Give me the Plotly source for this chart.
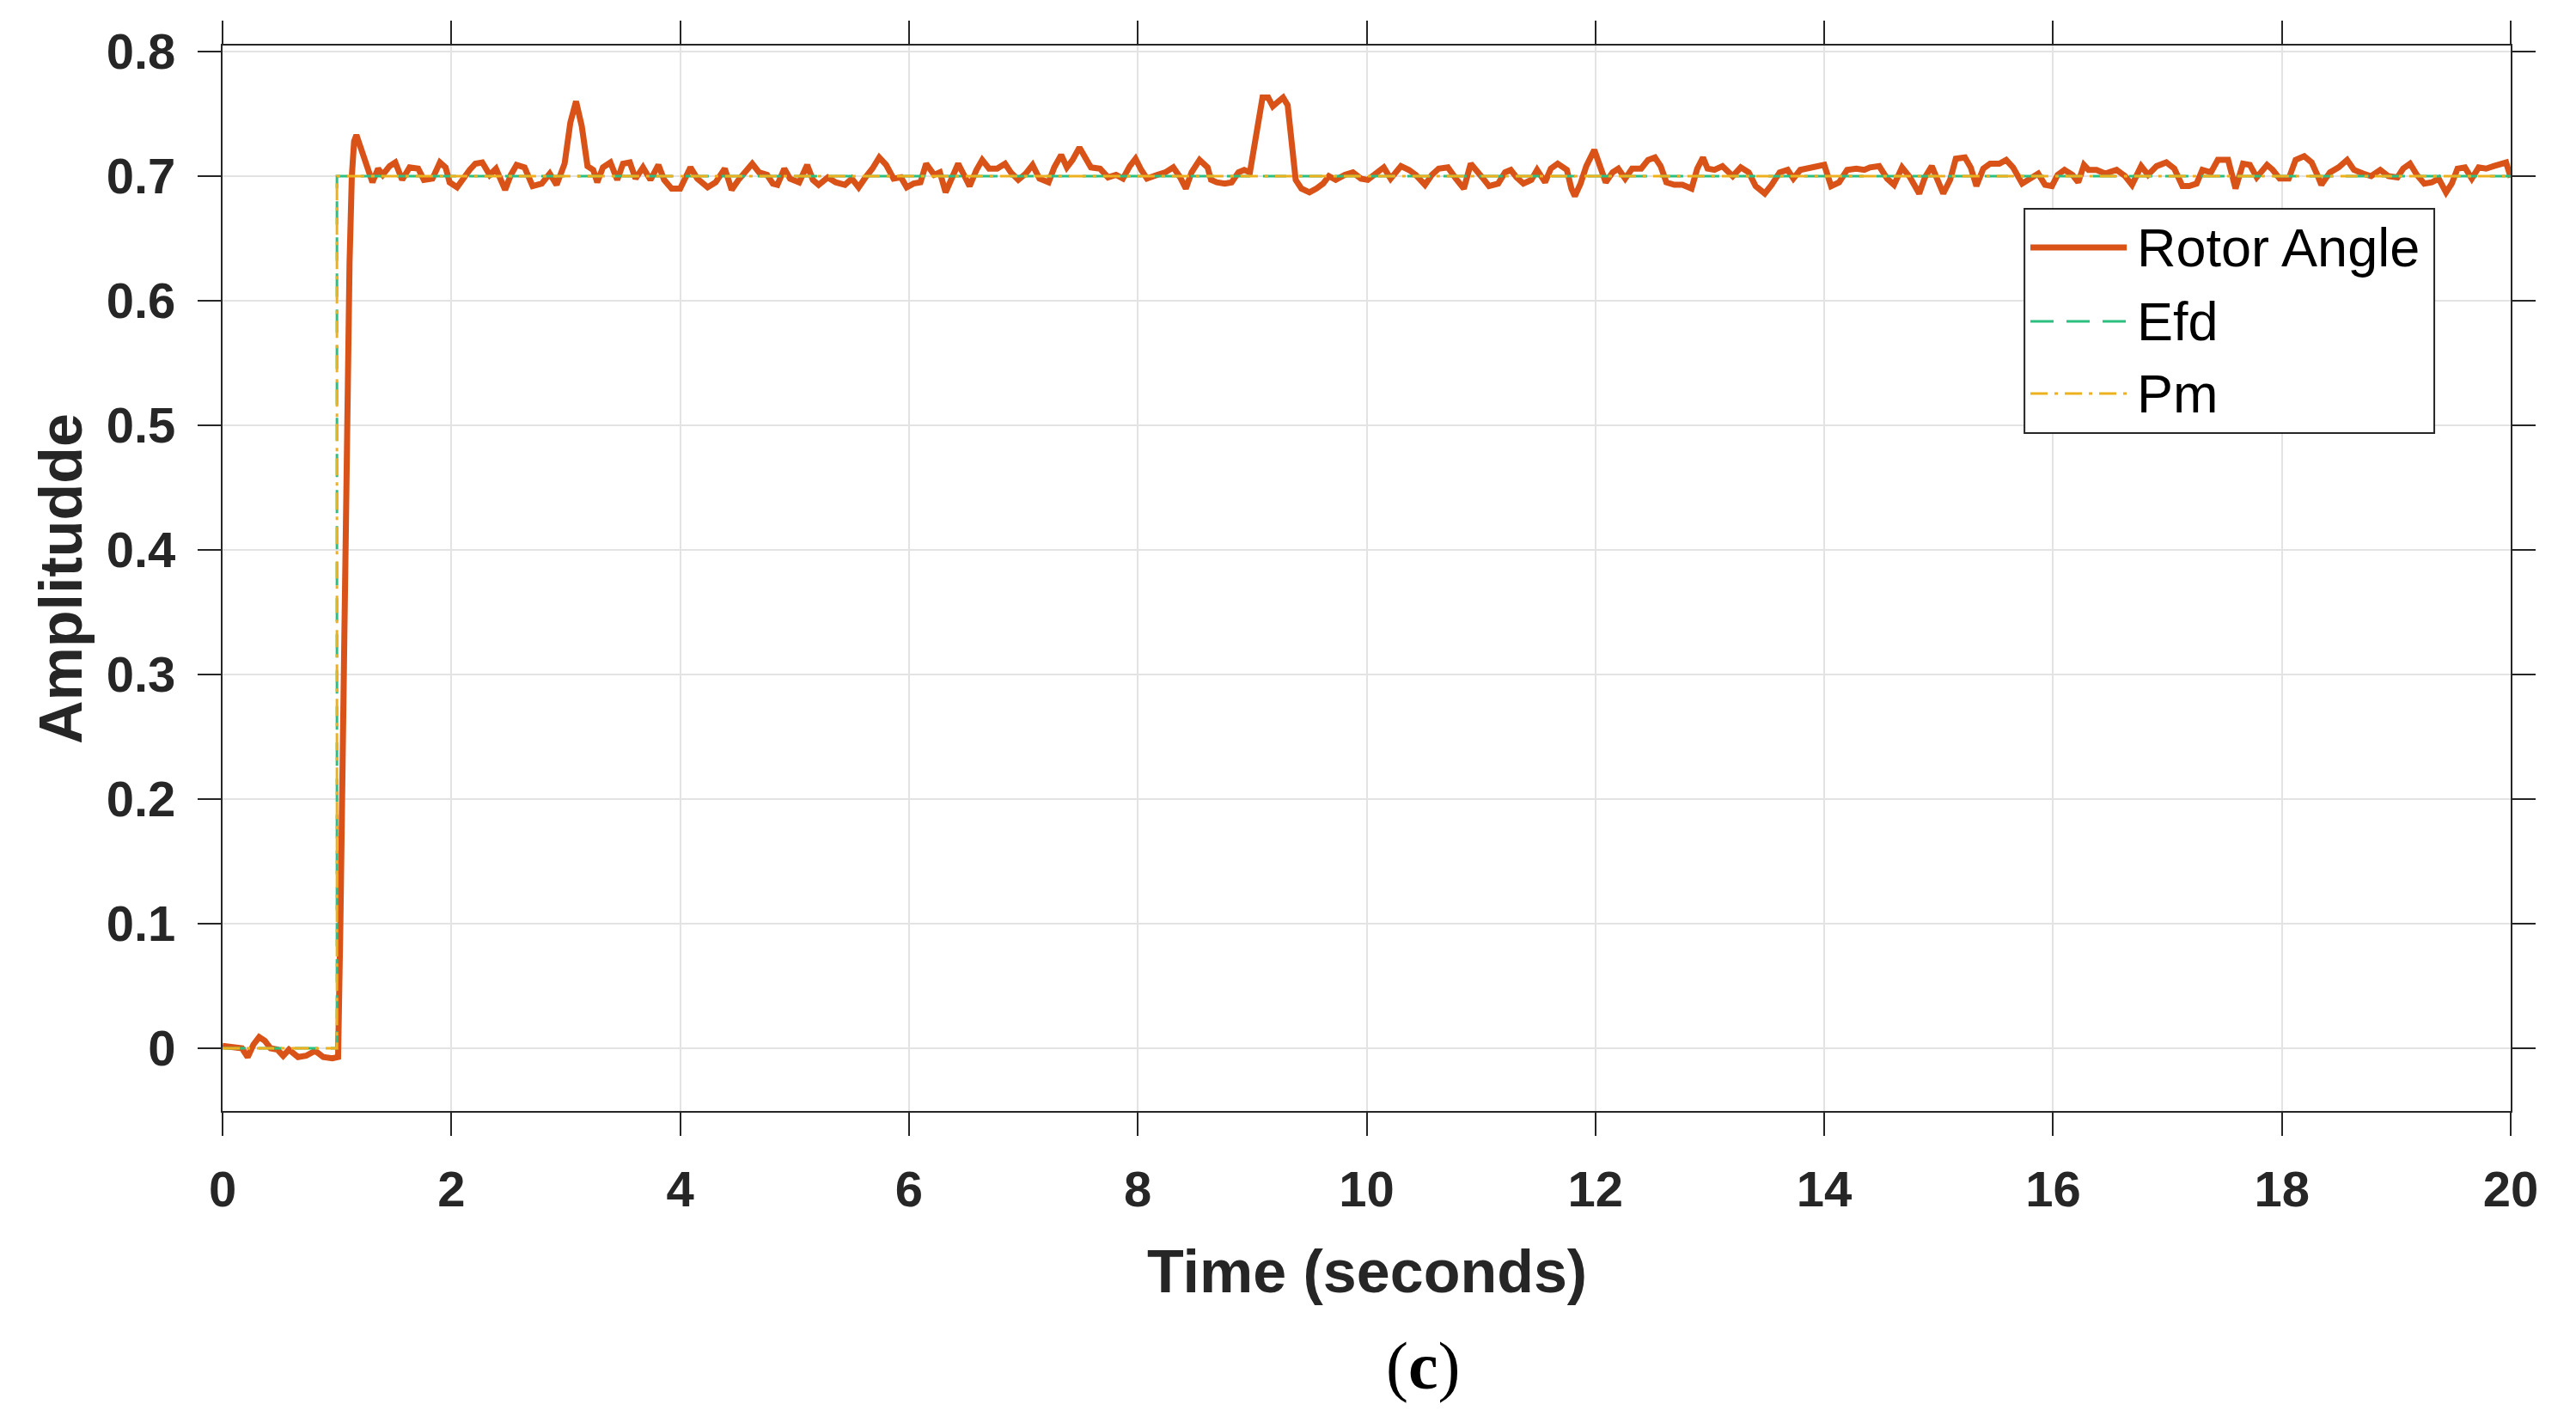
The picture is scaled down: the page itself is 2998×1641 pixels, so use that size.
import plotly.graph_objects as go

# Rotor angle trace (time in s, value)
rotor_t = [
    0.0, 0.11, 0.17, 0.22, 0.27, 0.32, 0.37, 0.42, 0.48, 0.53, 0.58, 0.66, 0.73, 0.81, 0.88, 0.96,
    1.01, 1.03, 1.05, 1.07, 1.09, 1.11, 1.13, 1.15, 1.17,
    1.21, 1.25, 1.28, 1.31, 1.36, 1.40, 1.46, 1.51, 1.57, 1.635, 1.71, 1.76, 1.835, 1.90, 1.95, 1.985,
    2.05, 2.10, 2.16, 2.21, 2.27, 2.335, 2.39, 2.47, 2.52, 2.57, 2.64, 2.71, 2.79, 2.86, 2.92, 2.99,
    3.04, 3.09, 3.14, 3.19, 3.24, 3.275, 3.325, 3.39, 3.45, 3.50, 3.56, 3.61, 3.675, 3.74, 3.81, 3.86, 3.925,
    4.00, 4.09, 4.15, 4.24, 4.31, 4.39, 4.45, 4.51, 4.63, 4.69, 4.76, 4.81,
    4.85, 4.91, 4.96, 5.04, 5.11, 5.16, 5.21, 5.29, 5.36, 5.44, 5.50, 5.56, 5.62, 5.68, 5.74, 5.80, 5.865, 5.93, 5.98,
    6.04, 6.10, 6.15, 6.22, 6.27, 6.32, 6.38, 6.43, 6.48, 6.53, 6.59, 6.64, 6.70, 6.77, 6.84, 6.89, 6.955,
    7.02, 7.08, 7.14, 7.22, 7.27, 7.33, 7.38, 7.43, 7.49, 7.54, 7.59, 7.67, 7.74, 7.81, 7.87, 7.93, 7.98,
    8.03, 8.08, 8.17, 8.24, 8.31, 8.37, 8.42, 8.47, 8.54, 8.61, 8.64, 8.69, 8.76, 8.82, 8.88, 8.93, 8.98,
    9.02, 9.06, 9.09, 9.14, 9.18, 9.23, 9.27, 9.31, 9.35, 9.38, 9.43, 9.50, 9.56, 9.62, 9.67, 9.73, 9.81, 9.88, 9.95,
    10.01, 10.08, 10.15, 10.21, 10.30, 10.37, 10.43, 10.51, 10.57, 10.63, 10.71, 10.78, 10.85, 10.91, 10.96,
    11.01, 11.07, 11.15, 11.21, 11.26, 11.31, 11.37, 11.44, 11.49, 11.56, 11.61, 11.67, 11.75, 11.79, 11.82, 11.87, 11.92, 11.99,
    12.04, 12.09, 12.15, 12.20, 12.26, 12.32, 12.40, 12.46, 12.52, 12.57, 12.62, 12.69, 12.76, 12.84, 12.89, 12.94, 12.98,
    13.04, 13.11, 13.20, 13.27, 13.34, 13.40, 13.48, 13.54, 13.61, 13.68, 13.73, 13.79, 13.86, 13.94,
    14.00, 14.06, 14.13, 14.20, 14.28, 14.35, 14.40, 14.48, 14.55, 14.61, 14.68, 14.75, 14.83, 14.88, 14.94, 14.99,
    15.04, 15.10, 15.15, 15.23, 15.28, 15.33, 15.39, 15.45, 15.53, 15.59, 15.65, 15.73, 15.79, 15.87, 15.93, 15.99,
    16.04, 16.10, 16.17, 16.22, 16.27, 16.31, 16.38, 16.455, 16.555, 16.63, 16.69, 16.77, 16.83, 16.905, 16.99,
    17.06, 17.13, 17.19, 17.255, 17.305, 17.38, 17.44, 17.53, 17.595, 17.66, 17.72, 17.78, 17.87, 17.92, 17.98,
    18.06, 18.12, 18.195, 18.26, 18.31, 18.345, 18.42, 18.495, 18.57, 18.63, 18.71, 18.78, 18.86, 18.93,
    19.01, 19.06, 19.12, 19.18, 19.245, 19.31, 19.37, 19.435, 19.485, 19.535, 19.60, 19.66, 19.72, 19.785, 19.85, 19.91, 19.96, 20.0,
]
rotor_v = [
    0.002, 0.001, 0.000, -0.007, 0.003, 0.009, 0.006, 0.000, -0.001, -0.006, -0.001, -0.007, -0.006, -0.002, -0.007, -0.008,
    -0.007, 0.10, 0.25, 0.40, 0.52, 0.63, 0.70, 0.728, 0.733,
    0.722, 0.710, 0.700, 0.695, 0.706, 0.701, 0.708, 0.711, 0.697, 0.707, 0.706, 0.697, 0.698, 0.711, 0.707, 0.695,
    0.691, 0.698, 0.705, 0.710, 0.711, 0.701, 0.706, 0.689, 0.701, 0.709, 0.707, 0.692, 0.694, 0.702, 0.693, 0.710,
    0.743, 0.760, 0.740, 0.708, 0.705, 0.695, 0.707, 0.711, 0.697, 0.710, 0.711, 0.698, 0.707, 0.697, 0.709, 0.697, 0.690,
    0.690, 0.707, 0.698, 0.691, 0.695, 0.706, 0.689, 0.697, 0.710, 0.703, 0.701, 0.694,
    0.693, 0.706, 0.698, 0.695, 0.709, 0.697, 0.693, 0.699, 0.695, 0.693, 0.698, 0.691, 0.699, 0.706, 0.715, 0.709, 0.698, 0.699, 0.691,
    0.694, 0.695, 0.710, 0.701, 0.703, 0.687, 0.699, 0.710, 0.701, 0.692, 0.705, 0.713, 0.706, 0.706, 0.710, 0.703, 0.697,
    0.702, 0.709, 0.698, 0.695, 0.707, 0.717, 0.707, 0.713, 0.723, 0.715, 0.707, 0.706, 0.699, 0.701, 0.698, 0.708, 0.714,
    0.705, 0.698, 0.701, 0.703, 0.707, 0.699, 0.690, 0.703, 0.713, 0.707, 0.697, 0.695, 0.694, 0.695, 0.703, 0.705, 0.703,
    0.726, 0.743, 0.763, 0.763, 0.756, 0.760, 0.763, 0.757, 0.722, 0.697, 0.690, 0.687, 0.690, 0.694, 0.700, 0.697, 0.701, 0.703, 0.698,
    0.697, 0.702, 0.707, 0.698, 0.708, 0.705, 0.701, 0.693, 0.701, 0.706, 0.707, 0.698, 0.690, 0.710, 0.705,
    0.699, 0.692, 0.694, 0.703, 0.705, 0.699, 0.694, 0.697, 0.705, 0.695, 0.706, 0.710, 0.705, 0.690, 0.684, 0.694, 0.708, 0.721,
    0.708, 0.695, 0.703, 0.706, 0.698, 0.706, 0.706, 0.713, 0.715, 0.708, 0.695, 0.693, 0.693, 0.690, 0.706, 0.715, 0.706,
    0.705, 0.708, 0.700, 0.707, 0.703, 0.692, 0.686, 0.693, 0.703, 0.705, 0.698, 0.705, 0.706, 0.708,
    0.709, 0.692, 0.695, 0.705, 0.706, 0.705, 0.707, 0.708, 0.698, 0.693, 0.707, 0.699, 0.686, 0.699, 0.708, 0.697,
    0.686, 0.697, 0.714, 0.715, 0.707, 0.692, 0.706, 0.710, 0.710, 0.713, 0.707, 0.694, 0.698, 0.702, 0.693, 0.692,
    0.701, 0.705, 0.701, 0.695, 0.709, 0.705, 0.705, 0.702, 0.705, 0.700, 0.693, 0.708, 0.701, 0.708, 0.711,
    0.706, 0.692, 0.692, 0.694, 0.705, 0.703, 0.713, 0.713, 0.690, 0.710, 0.709, 0.699, 0.709, 0.705, 0.698,
    0.698, 0.713, 0.716, 0.711, 0.701, 0.693, 0.703, 0.707, 0.713, 0.705, 0.702, 0.700, 0.705, 0.700,
    0.699, 0.706, 0.710, 0.701, 0.694, 0.695, 0.698, 0.687, 0.694, 0.706, 0.707, 0.698, 0.707, 0.706, 0.708, 0.710, 0.711, 0.699,
]

# Step inputs (Efd and Pm both step to 0.7 at t = 1 s)
step_t = [0, 1.0, 1.0, 20]
efd_v = [0, 0, 0.7, 0.7]
pm_v = [0, 0, 0.7, 0.7]

x_ticks = [0, 2, 4, 6, 8, 10, 12, 14, 16, 18, 20]
y_ticks = [0, 0.1, 0.2, 0.3, 0.4, 0.5, 0.6, 0.7, 0.8]

ROTOR_COLOR = '#D95319'
EFD_COLOR = '#2BBF80'
PM_COLOR = '#EDB120'
AXIS_COLOR = '#262626'
SANS = 'Liberation Sans, Arial, sans-serif'
EFD_DASH = '27px,15px'
PM_DASH = '20px,8px,4px,8px'

fig = go.Figure()

fig.add_trace(go.Scatter(
    x=rotor_t, y=rotor_v, mode='lines', name='Rotor Angle',
    line=dict(color=ROTOR_COLOR, width=7)
))
fig.add_trace(go.Scatter(
    x=step_t, y=efd_v, mode='lines', name='Efd',
    line=dict(color=EFD_COLOR, width=3, dash=EFD_DASH)
))
fig.add_trace(go.Scatter(
    x=step_t, y=pm_v, mode='lines', name='Pm',
    line=dict(color=PM_COLOR, width=3, dash=PM_DASH)
))

axis_common = dict(
    showline=True, linecolor=AXIS_COLOR, linewidth=2, mirror='ticks',
    ticks='outside', ticklen=27, tickwidth=2, tickcolor=AXIS_COLOR,
    showgrid=True, gridcolor='#E3E3E3', gridwidth=2, zeroline=False,
    tickfont=dict(family=SANS, size=58, color=AXIS_COLOR, weight='bold'),
)

fig.update_xaxes(range=[0, 20], tickvals=x_ticks, ticktext=[str(v) for v in x_ticks],
                 ticklabelstandoff=12, **axis_common)
fig.update_yaxes(range=[-0.0503, 0.8048], tickvals=y_ticks,
                 ticktext=['0' if v == 0 else f'{v:.1f}' for v in y_ticks],
                 ticklabelstandoff=14, **axis_common)

annotations = [
    dict(text='Time (seconds)', x=0.5, y=-0.1508, xref='paper', yref='paper',
         xanchor='center', yanchor='middle', showarrow=False,
         font=dict(family=SANS, size=70, color=AXIS_COLOR, weight='bold')),
    dict(text='Amplitudde', x=-0.0706, y=0.5, xref='paper', yref='paper', textangle=-90,
         xanchor='center', yanchor='middle', showarrow=False,
         font=dict(family=SANS, size=70, color=AXIS_COLOR, weight='bold')),
    dict(text='(<b>c</b>)', x=0.5246, y=-0.2395, xref='paper', yref='paper',
         xanchor='center', yanchor='middle', showarrow=False,
         font=dict(family='Liberation Serif, Times New Roman, serif', size=78, color='black')),
]

# Hand-drawn legend box, MATLAB style
legend_rows = [
    ('Rotor Angle', ROTOR_COLOR, 7, 'solid', 0.8105),
    ('Efd', EFD_COLOR, 3, EFD_DASH, 0.7411),
    ('Pm', PM_COLOR, 3, PM_DASH, 0.6734),
]
shapes = [dict(type='rect', xref='paper', yref='paper', x0=0.7875, x1=0.9666, y0=0.6363, y1=0.8468,
               line=dict(color=AXIS_COLOR, width=2), fillcolor='white', layer='above')]
for label, color, width, dash, yy in legend_rows:
    shapes.append(dict(type='line', xref='paper', yref='paper', x0=0.7901, x1=0.8322, y0=yy, y1=yy,
                       line=dict(color=color, width=width, dash=dash), layer='above'))
    annotations.append(dict(text=label, x=0.8359, y=yy, xref='paper', yref='paper',
                            xanchor='left', yanchor='middle', showarrow=False,
                            font=dict(family=SANS, size=63, color='black')))

# the page adds an 8px body margin, so the margins are offset by that
fig.update_layout(
    width=2998, height=1641,
    margin=dict(l=251, r=84, t=45, b=356),
    paper_bgcolor='white', plot_bgcolor='white',
    showlegend=False,
    shapes=shapes, annotations=annotations,
)

fig.write_html("out.html", config={'displayModeBar': False})
